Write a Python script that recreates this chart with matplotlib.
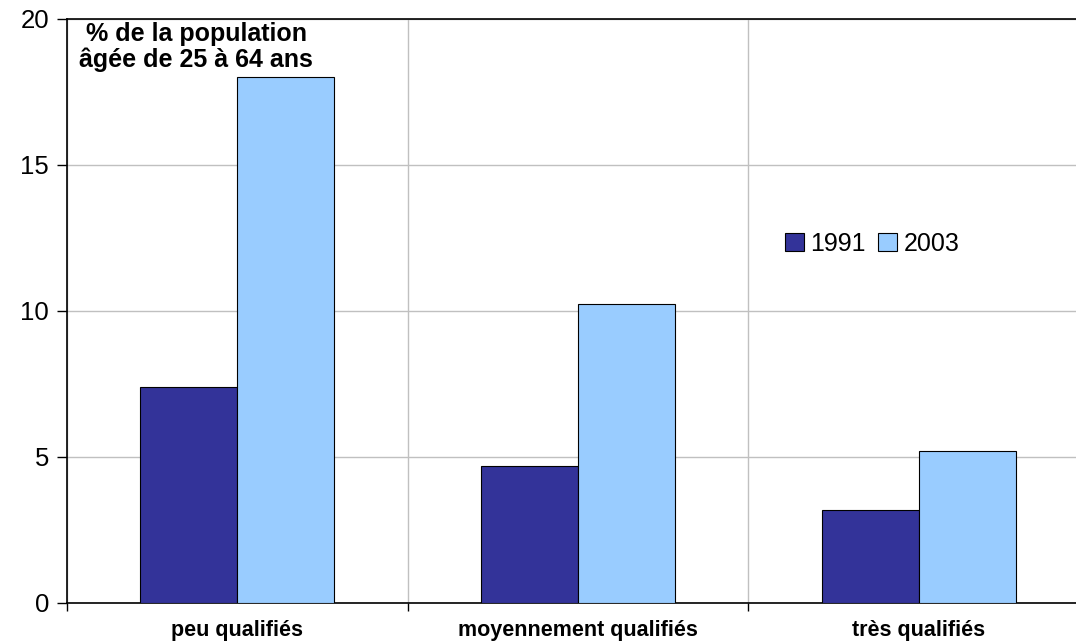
import matplotlib
matplotlib.use("Agg")
import matplotlib.pyplot as plt
import numpy as np

plt.rcParams["font.family"] = ["Liberation Sans", "DejaVu Sans"]

categories = ["peu qualifiés", "moyennement qualifiés", "très qualifiés"]
years = ["1991", "2003"]
values_1991 = [7.4, 4.7, 3.2]
values_2003 = [18.0, 10.25, 5.2]

DARK = "#333399"
LIGHT = "#99ccff"

fig = plt.figure(figsize=(10.76, 6.44), dpi=100)
ax = fig.add_axes([67 / 1076, 1 - 603 / 644, (1089 - 67) / 1076, (603 - 19) / 644])

x = np.arange(len(categories))
w = 0.285
ax.bar(x - w / 2, values_1991, w, color=DARK, edgecolor="black", linewidth=0.8, label=years[0], zorder=3)
ax.bar(x + w / 2, values_2003, w, color=LIGHT, edgecolor="black", linewidth=0.8, label=years[1], zorder=3)

ax.set_xlim(-0.5, len(categories) - 0.5)
ax.set_ylim(0, 20)
ax.set_yticks([0, 5, 10, 15, 20])
ax.tick_params(axis="y", direction="out", length=7, width=1, labelsize=18.5, pad=6)

# category labels centred, tick marks on category boundaries
ax.set_xticks(x)
ax.set_xticklabels(categories, fontsize=15.5, fontweight="bold")
ax.tick_params(axis="x", which="major", length=0, pad=12)
ax.set_xticks(np.arange(-0.5, len(categories)), minor=True)
ax.tick_params(axis="x", which="minor", direction="out", length=6, width=1)

ax.grid(True, axis="y", color="#c0c0c0", linewidth=1, zorder=0)
ax.grid(True, axis="x", which="minor", color="#c0c0c0", linewidth=1, zorder=0)

for side in ["left", "bottom", "top"]:
    ax.spines[side].set_color("black")
    ax.spines[side].set_linewidth(1.2)
ax.spines["right"].set_visible(False)

ax.text(0.012, 0.995, " % de la population\nâgée de 25 à 64 ans", transform=ax.transAxes,
        fontsize=18, fontweight="bold", ha="left", va="top", linespacing=1.1)

ax.legend(loc="upper left", bbox_to_anchor=(0.681, 0.674), ncol=2, frameon=False,
          fontsize=18, handlelength=0.75, handleheight=0.75, handletextpad=0.25,
          columnspacing=0.5)

fig.savefig("out.png", dpi=100)
